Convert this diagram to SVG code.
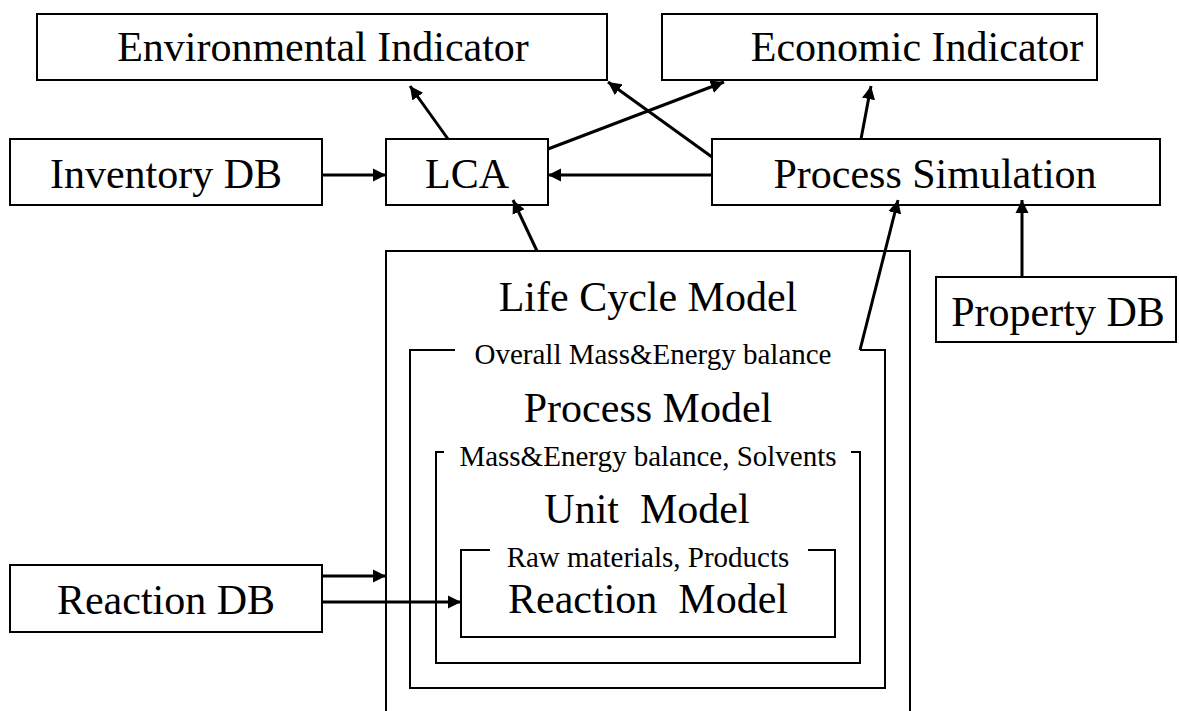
<svg xmlns="http://www.w3.org/2000/svg" width="1179" height="711" viewBox="0 0 1179 711">
  <style>
    .box { fill: #fff; stroke: #000; stroke-width: 2; }
    .frame { fill: none; stroke: #000; stroke-width: 2; }
    text { font-family: 'Liberation Serif', 'Times New Roman', serif; text-anchor: middle; fill: #000; }
    .big { font-size: 42px; }
    .small { font-size: 29px; }
    .arrow { fill: none; stroke: #000; stroke-width: 3; marker-end: url(#head); }
  </style>
  <defs>
    <!-- filled triangular arrowhead, about 13 px long and 14 px wide -->
    <marker id="head" viewBox="0 0 10 10" refX="10" refY="5" markerWidth="4.4" markerHeight="4.7" markerUnits="strokeWidth" orient="auto">
      <path d="M0,0 L10,5 L0,10 Z" fill="#000"/>
    </marker>
  </defs>

  <rect width="1179" height="711" fill="#fff"/>

  <g id="environmental-indicator">
    <rect class="box" x="37" y="14" width="570" height="66"/>
    <text class="big" x="323" y="61">Environmental Indicator</text>
  </g>
  <g id="economic-indicator">
    <rect class="box" x="662" y="14" width="435" height="66"/>
    <text class="big" x="917" y="61">Economic Indicator</text>
  </g>
  <g id="inventory-db">
    <rect class="box" x="10" y="139" width="312" height="66"/>
    <text class="big" x="166" y="188">Inventory DB</text>
  </g>
  <g id="lca">
    <rect class="box" x="386" y="139" width="162" height="66"/>
    <text class="big" x="467" y="188">LCA</text>
  </g>
  <g id="process-simulation">
    <rect class="box" x="712" y="139" width="448" height="66"/>
    <text class="big" x="935" y="188">Process Simulation</text>
  </g>
  <g id="property-db">
    <rect class="box" x="936" y="277" width="240" height="65"/>
    <text class="big" x="1058" y="326">Property DB</text>
  </g>
  <g id="reaction-db">
    <rect class="box" x="10" y="565" width="312" height="67"/>
    <text class="big" x="166" y="614">Reaction DB</text>
  </g>

  <g id="life-cycle-model">
    <path class="frame" d="M386,711 L386,251 L910,251 L910,711"/>
    <text class="big" x="648" y="311">Life Cycle Model</text>
  </g>
  <g id="process-model">
    <path class="frame" d="M455,350 L410,350 L410,688 L885,688 L885,350 L860,350"/>
    <text class="small" x="653" y="364">Overall Mass&amp;Energy balance</text>
    <text class="big" x="648" y="422">Process Model</text>
  </g>
  <g id="unit-model">
    <path class="frame" d="M444,452 L436,452 L436,663 L860,663 L860,452 L851,452"/>
    <text class="small" x="648" y="466">Mass&amp;Energy balance, Solvents</text>
    <text class="big" x="647" y="523" xml:space="preserve">Unit  Model</text>
  </g>
  <g id="reaction-model">
    <path class="frame" d="M490,550 L461,550 L461,637 L835,637 L835,550 L808,550"/>
    <text class="small" x="648" y="567">Raw materials, Products</text>
    <text class="big" x="648" y="613" xml:space="preserve">Reaction  Model</text>
  </g>

  <g id="connectors">
    <line class="arrow" x1="448" y1="139" x2="410" y2="86"/>
    <line class="arrow" x1="548" y1="149" x2="724" y2="82"/>
    <line class="arrow" x1="712" y1="157" x2="608" y2="82"/>
    <line class="arrow" x1="861" y1="139" x2="871" y2="86"/>
    <line class="arrow" x1="322" y1="175" x2="386" y2="175"/>
    <line class="arrow" x1="712" y1="175" x2="548" y2="175"/>
    <line class="arrow" x1="537" y1="251" x2="513" y2="200"/>
    <line class="arrow" x1="860" y1="350" x2="898" y2="200"/>
    <line class="arrow" x1="1022" y1="277" x2="1022" y2="200"/>
    <line class="arrow" x1="322" y1="576" x2="386" y2="576"/>
    <line class="arrow" x1="322" y1="602" x2="461" y2="602"/>
  </g>
</svg>
